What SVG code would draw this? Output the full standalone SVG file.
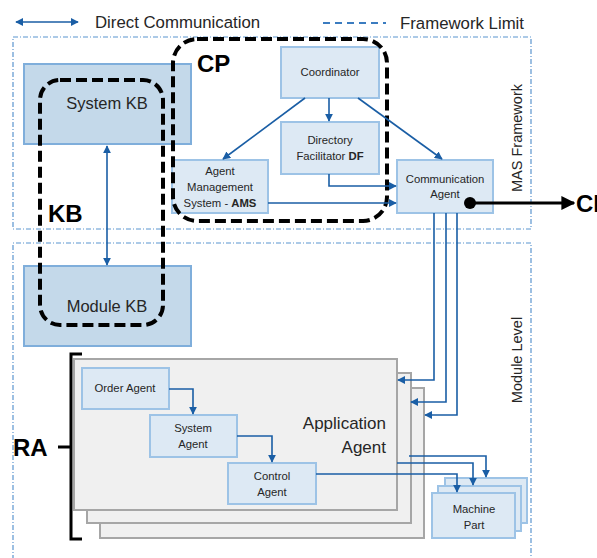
<svg xmlns="http://www.w3.org/2000/svg" width="597" height="558" viewBox="0 0 597 558">
<defs>
<style>
text{font-family:"Liberation Sans",Arial,sans-serif;fill:#262626}
.t{font-size:11.3px;text-anchor:middle}
.box{fill:#dde9f4;stroke:#9dc3e6;stroke-width:2}
.kbbox{fill:#c4d9ea;stroke:#7faedb;stroke-width:2}
.app{fill:#f0f0f0;stroke:#a6a6a6;stroke-width:2}
.fw{fill:none;stroke:#5b95cf;stroke-width:1.2;stroke-dasharray:5 2 1 2}
.grp{fill:none;stroke:#000;stroke-width:4;stroke-dasharray:11 5}
.c{fill:none;stroke:#1a5ea5;stroke-width:1.6}
.big{font-size:24px;font-weight:bold;fill:#000}
</style>
<marker id="ah" viewBox="0 0 10 10" refX="9" refY="5" markerWidth="8" markerHeight="8" markerUnits="userSpaceOnUse" orient="auto-start-reverse"><path d="M0,0 L10,5 L0,10 z" fill="#1a5ea5"/></marker>
<marker id="ahk" viewBox="0 0 10 10" refX="9" refY="5" markerWidth="14" markerHeight="14" markerUnits="userSpaceOnUse" orient="auto"><path d="M0,0 L10,5 L0,10 z" fill="#000"/></marker>
</defs>

<g id="legend">
<line x1="16" y1="22" x2="78" y2="22" class="c" stroke-width="2" marker-start="url(#ah)" marker-end="url(#ah)"/>
<text x="95" y="28" font-size="16.8">Direct Communication</text>
<line x1="323" y1="23" x2="386" y2="23" stroke="#3b7cc0" stroke-width="2" stroke-dasharray="7 5"/>
<text x="400" y="29" font-size="16.8">Framework Limit</text>
</g>

<g id="frameworks">
<rect x="13" y="37" width="518" height="192" class="fw"/>
<text transform="translate(522,138) rotate(-90)" font-size="14.5" text-anchor="middle">MAS Framework</text>
<path d="M13,570 L13,243 L531,243 L531,570" class="fw"/>
<text transform="translate(522,360) rotate(-90)" font-size="14.5" text-anchor="middle">Module Level</text>
</g>

<g id="system-kb"><rect x="24" y="64" width="167" height="80" class="kbbox"/><text x="107" y="109" font-size="16.5" text-anchor="middle">System KB</text></g>
<g id="module-kb"><rect x="24" y="266" width="167" height="80" class="kbbox"/><text x="107" y="312" font-size="16.5" text-anchor="middle">Module KB</text></g>

<g id="application-agent">
<rect x="100" y="388" width="324" height="150" class="app"/>
<rect x="87" y="373" width="324" height="150" class="app"/>
<rect x="74" y="359" width="323" height="151" class="app"/>
<text x="386" y="429" font-size="17" text-anchor="end">Application</text>
<text x="386" y="453" font-size="17" text-anchor="end">Agent</text>
</g>

<g id="machine-part">
<rect x="445" y="478" width="82" height="45" class="box"/>
<rect x="438" y="486" width="83" height="45" class="box"/>
<rect x="432" y="493" width="83" height="45" class="box"/>
<text x="474" y="513" class="t">Machine</text>
<text x="474" y="529" class="t">Part</text>
</g>

<g id="coordinator"><rect x="281" y="47" width="98" height="51" class="box"/><text x="330" y="76" class="t">Coordinator</text></g>
<g id="df"><rect x="281" y="122" width="98" height="52" class="box"/><text x="330" y="144" class="t">Directory</text><text x="330" y="160" class="t">Facilitator <tspan font-weight="bold">DF</tspan></text></g>
<g id="ams"><rect x="172" y="160" width="96" height="53" class="box"/><text x="220" y="175" class="t">Agent</text><text x="220" y="191" class="t">Management</text><text x="220" y="207" class="t">System - <tspan font-weight="bold">AMS</tspan></text></g>
<g id="communication-agent"><rect x="397" y="160" width="96" height="53" class="box"/><text x="445" y="183" class="t">Communication</text><text x="445" y="198" class="t">Agent</text></g>

<g id="order-agent"><rect x="82" y="368" width="87" height="41" class="box"/><text x="125" y="392" class="t">Order Agent</text></g>
<g id="system-agent"><rect x="150" y="415" width="87" height="42" class="box"/><text x="193" y="432" class="t">System</text><text x="193" y="448" class="t">Agent</text></g>
<g id="control-agent"><rect x="228" y="463" width="88" height="41" class="box"/><text x="272" y="480" class="t">Control</text><text x="272" y="496" class="t">Agent</text></g>

<g id="kb-group"><rect x="40" y="80" width="123" height="245" rx="20" class="grp"/><text x="48" y="222" class="big">KB</text></g>
<g id="cp-group"><rect x="173" y="39" width="214" height="182" rx="24" class="grp"/><text x="197" y="72" class="big">CP</text></g>

<g id="connectors">
<line x1="107" y1="146" x2="107" y2="265" class="c" marker-start="url(#ah)" marker-end="url(#ah)"/>
<line x1="305" y1="98" x2="223" y2="159" class="c" marker-end="url(#ah)"/>
<line x1="329" y1="98" x2="329" y2="121" class="c" marker-end="url(#ah)"/>
<line x1="358" y1="98" x2="442" y2="159" class="c" marker-end="url(#ah)"/>
<path d="M329,174 V186 H396" class="c" marker-end="url(#ah)"/>
<line x1="268" y1="203" x2="396" y2="203" class="c" marker-end="url(#ah)"/>
<path d="M434,213 V380 H398" class="c" marker-end="url(#ah)"/>
<path d="M446,213 V402 H411" class="c" marker-end="url(#ah)"/>
<path d="M457,213 V415 H425" class="c" marker-end="url(#ah)"/>
<path d="M169,389 H193 V414" class="c" marker-end="url(#ah)"/>
<path d="M237,436 H272 V462" class="c" marker-end="url(#ah)"/>
<path d="M409,456 H486 V477" class="c" marker-end="url(#ah)"/>
<path d="M397,463 H473 V485" class="c" marker-end="url(#ah)"/>
<path d="M316,474 H457 V492" class="c" marker-end="url(#ah)"/>
<circle cx="470" cy="203" r="6" fill="#000"/>
<line x1="470" y1="203" x2="574" y2="203" stroke="#000" stroke-width="3" marker-end="url(#ahk)"/>
<text x="576" y="212" class="big">CI</text>
</g>

<g id="ra">
<path d="M82,354 H71 V539 H82 M71,447 H58" fill="none" stroke="#000" stroke-width="3"/>
<text x="13" y="456" class="big">RA</text>
</g>
</svg>
